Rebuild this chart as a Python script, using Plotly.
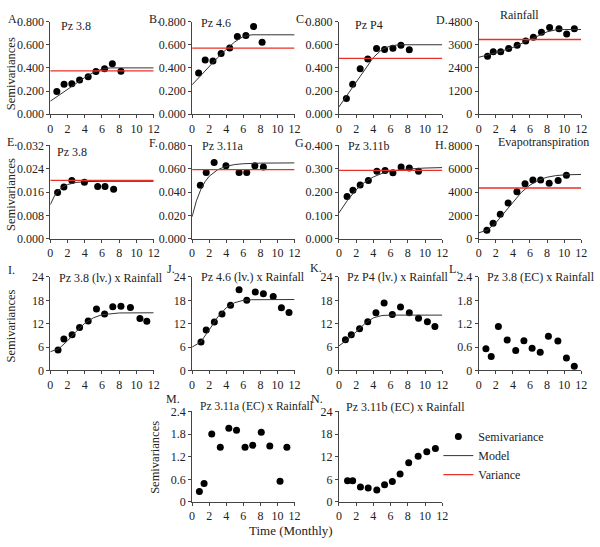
import plotly.graph_objects as go

FONT = "Liberation Serif"
W, H = 600, 547

# ---------------- data ----------------
A_lag = [0.76, 1.6, 2.5, 3.4, 4.4, 5.3, 6.3, 7.2, 8.2]
A_gamma = [0.197, 0.258, 0.264, 0.295, 0.323, 0.368, 0.393, 0.435, 0.371]
A_model_lag = [0, 1, 2, 3, 4, 5, 6, 7, 12]
A_model = [0.112, 0.165, 0.217, 0.268, 0.317, 0.36, 0.39, 0.40, 0.40]
A_var = 0.374

B_lag = [0.76, 1.53, 2.44, 3.4, 4.4, 5.3, 6.3, 7.2, 8.2]
B_gamma = [0.356, 0.469, 0.460, 0.525, 0.573, 0.672, 0.681, 0.757, 0.621]
B_model_lag = [0, 1, 2, 3, 4, 5, 6, 7, 12]
B_model = [0.254, 0.335, 0.415, 0.49, 0.56, 0.625, 0.672, 0.686, 0.686]
B_var = 0.571

C_lag = [0.87, 1.6, 2.47, 3.35, 4.37, 5.3, 6.27, 7.2, 8.17]
C_gamma = [0.135, 0.258, 0.393, 0.478, 0.567, 0.559, 0.570, 0.596, 0.556]
C_model_lag = [0, 1, 2, 3, 4, 5, 6, 7, 12]
C_model = [0.062, 0.17, 0.28, 0.39, 0.49, 0.56, 0.59, 0.60, 0.60]
C_var = 0.483

D_lag = [1.03, 1.7, 2.57, 3.5, 4.5, 5.5, 6.4, 7.35, 8.3, 9.4, 10.3, 11.2]
D_gamma = [2998, 3234, 3234, 3402, 3570, 3789, 3991, 4244, 4497, 4429, 4160, 4429]
D_model_lag = [0, 2, 4, 6, 8, 9, 10, 12]
D_model = [2950, 3180, 3460, 3870, 4270, 4370, 4390, 4390]
D_var = 3874

E_lag = [0.85, 1.58, 2.5, 3.96, 5.5, 6.35, 7.35]
E_gamma = [0.0159, 0.0178, 0.0200, 0.0194, 0.0179, 0.0179, 0.0170]
E_model_lag = [0, 0.25, 0.5, 1, 1.5, 2, 3, 4, 6, 12]
E_model = [0.0117, 0.0135, 0.0148, 0.0167, 0.0179, 0.0186, 0.0193, 0.0196, 0.0197, 0.0197]
E_var = 0.0200

F_lag = [0.96, 1.65, 2.58, 3.96, 5.5, 6.4, 7.35, 8.35]
F_gamma = [0.0458, 0.0569, 0.0653, 0.0625, 0.0569, 0.0569, 0.0625, 0.0614]
F_model_lag = [0, 0.25, 0.5, 1, 1.5, 2, 3, 4, 5, 6, 8, 12]
F_model = [0.019, 0.0263, 0.0325, 0.042, 0.0488, 0.0536, 0.0592, 0.0621, 0.0636, 0.0643, 0.0648, 0.065]
F_var = 0.0592

G_lag = [0.95, 1.63, 2.47, 3.42, 4.41, 5.36, 6.27, 7.22, 8.17, 9.24]
G_gamma = [0.181, 0.208, 0.231, 0.25, 0.289, 0.293, 0.283, 0.308, 0.303, 0.289]
G_model_lag = [0, 1, 2, 3, 4, 5, 6, 8, 10, 12]
G_model = [0.111, 0.165, 0.21, 0.243, 0.265, 0.28, 0.29, 0.299, 0.303, 0.305]
G_var = 0.293

H_lag = [0.95, 1.68, 2.52, 3.44, 4.47, 5.42, 6.34, 7.25, 8.25, 9.3, 10.27]
H_gamma = [740, 1342, 2110, 3068, 4027, 4712, 5041, 5041, 4767, 4986, 5452]
H_model_lag = [0, 1, 2, 3, 4, 5, 6, 7, 8, 9, 10, 12]
H_model = [520, 750, 1380, 2250, 3170, 3985, 4605, 5025, 5275, 5410, 5475, 5515]
H_var = 4356

I_lag = [0.9, 1.58, 2.53, 3.4, 4.4, 5.36, 6.3, 7.25, 8.2, 9.3, 10.4, 11.2]
I_gamma = [5.25, 8.08, 9.17, 11.0, 12.67, 15.75, 14.5, 16.33, 16.5, 16.17, 13.33, 12.6]
I_model_lag = [0, 1, 2, 3, 4, 5, 6, 7, 8, 12]
I_model = [4.8, 5.6, 7.6, 10.0, 12.1, 13.5, 14.3, 14.6, 14.75, 14.8]

J_lag = [1.04, 1.65, 2.6, 3.5, 4.5, 5.5, 6.4, 7.4, 8.35, 9.5, 10.46, 11.35]
J_gamma = [7.28, 10.35, 12.4, 14.5, 16.7, 20.7, 18.0, 20.1, 19.7, 19.0, 16.1, 14.9]
J_model_lag = [0, 1, 2, 3, 4, 5, 6, 7, 12]
J_model = [6.0, 7.3, 10.4, 13.7, 16.1, 17.4, 18.0, 18.15, 18.2]

K_lag = [0.76, 1.44, 2.4, 3.35, 4.3, 5.25, 6.2, 7.15, 8.17, 9.24, 10.27, 11.14]
K_gamma = [7.9, 9.17, 10.67, 12.5, 14.83, 17.33, 14.33, 16.25, 14.83, 13.42, 12.5, 11.25]
K_model_lag = [0, 1, 2, 3, 4, 5, 6, 12]
K_model = [6.3, 7.9, 9.9, 12.0, 13.5, 14.1, 14.2, 14.2]

L_lag = [0.84, 1.46, 2.3, 3.33, 4.33, 5.29, 6.25, 7.2, 8.16, 9.27, 10.27, 11.19]
L_gamma = [0.554, 0.36, 1.13, 0.78, 0.51, 0.76, 0.57, 0.47, 0.88, 0.755, 0.32, 0.11]

M_lag = [0.85, 1.4, 2.3, 3.3, 4.3, 5.2, 6.2, 7.1, 8.1, 9.1, 10.3, 11.1]
M_gamma = [0.28, 0.49, 1.8, 1.45, 1.95, 1.9, 1.45, 1.5, 1.85, 1.48, 0.55, 1.45]

N_lag = [1.0, 1.6, 2.5, 3.4, 4.4, 5.3, 6.2, 7.1, 8.1, 9.2, 10.2, 11.2]
N_gamma = [5.6, 5.6, 4.0, 3.7, 3.2, 4.6, 5.4, 7.4, 10.4, 12.1, 13.3, 14.2]

x_ticks = [0, 2, 4, 6, 8, 10, 12]
x_ticktext = ["0", "2", "4", "6", "8", "10", "12"]

yt_08 = [0, 0.2, 0.4, 0.6, 0.8]
yt_08_text = ["0.000", "0.200", "0.400", "0.600", "0.800"]
yt_rain = [0, 1200, 2400, 3600, 4800]
yt_rain_text = ["0", "1200", "2400", "3600", "4800"]
yt_032 = [0, 0.008, 0.016, 0.024, 0.032]
yt_032_text = ["0.000", "0.008", "0.016", "0.024", "0.032"]
yt_080 = [0, 0.02, 0.04, 0.06, 0.08]
yt_080_text = ["0.000", "0.020", "0.040", "0.060", "0.080"]
yt_04 = [0, 0.1, 0.2, 0.3, 0.4]
yt_04_text = ["0.000", "0.100", "0.200", "0.300", "0.400"]
yt_evap = [0, 2000, 4000, 6000, 8000]
yt_evap_text = ["0", "2000", "4000", "6000", "8000"]
yt_24 = [0, 6, 12, 18, 24]
yt_24_text = ["0", "6", "12", "18", "24"]
yt_24b = [0, 0.6, 1.2, 1.8, 2.4]
yt_24b_text = ["0", "0.6", "1.2", "1.8", "2.4"]

titles = ["Pz 3.8", "Pz 4.6", "Pz P4", "Rainfall", "Pz 3.8", "Pz 3.11a", "Pz 3.11b",
          "Evapotranspiration", "Pz 3.8 (lv.) x Rainfall", "Pz 4.6 (lv.) x Rainfall",
          "Pz P4 (lv.) x Rainfall", "Pz 3.8 (EC) x Rainfall", "Pz 3.11a (EC) x Rainfall",
          "Pz 3.11b (EC) x Rainfall"]
letters = ["A.", "B.", "C.", "D.", "E.", "F.", "G.", "H.", "I.", "J.", "K.", "L.", "M.", "N."]
legend_names = ["Semivariance", "Model", "Variance"]
y_title = "Semivariances"
x_title = "Time (Monthly)"

# ---------------- layout geometry (pixels) ----------------
COLS = [(48, 153), (192, 296), (341, 446), (483, 587)]
ROWS = [(15, 110), (142, 238), (277, 373), (415, 508)]

panels = [
    dict(c=0, r=0, x=A_lag, y=A_gamma, mx=A_model_lag, my=A_model, var=A_var, yt=yt_08, ytt=yt_08_text, tpos=(57, 19), tsize=12, lpos=(3, 12)),
    dict(c=1, r=0, x=B_lag, y=B_gamma, mx=B_model_lag, my=B_model, var=B_var, yt=yt_08, ytt=yt_08_text, tpos=(199, 16), tsize=12, lpos=(146, 12)),
    dict(c=2, r=0, x=C_lag, y=C_gamma, mx=C_model_lag, my=C_model, var=C_var, yt=yt_08, ytt=yt_08_text, tpos=(355, 18), tsize=12, lpos=(295, 12)),
    dict(c=3, r=0, x=D_lag, y=D_gamma, mx=D_model_lag, my=D_model, var=D_var, yt=yt_rain, ytt=yt_rain_text, tpos=(503, 8), tsize=12, lpos=(438, 13)),
    dict(c=0, r=1, x=E_lag, y=E_gamma, mx=E_model_lag, my=E_model, var=E_var, yt=yt_032, ytt=yt_032_text, tpos=(53, 149), tsize=12, lpos=(2, 139)),
    dict(c=1, r=1, x=F_lag, y=F_gamma, mx=F_model_lag, my=F_model, var=F_var, yt=yt_080, ytt=yt_080_text, tpos=(200, 143), tsize=12, lpos=(146, 140)),
    dict(c=2, r=1, x=G_lag, y=G_gamma, mx=G_model_lag, my=G_model, var=G_var, yt=yt_04, ytt=yt_04_text, tpos=(348, 143), tsize=12, lpos=(294, 140)),
    dict(c=3, r=1, x=H_lag, y=H_gamma, mx=H_model_lag, my=H_model, var=H_var, yt=yt_evap, ytt=yt_evap_text, tpos=(500, 139), tsize=12, lpos=(437, 142)),
    dict(c=0, r=2, x=I_lag, y=I_gamma, mx=I_model_lag, my=I_model, var=None, yt=yt_24, ytt=yt_24_text, tpos=(55, 278), tsize=12, lpos=(3, 270)),
    dict(c=1, r=2, x=J_lag, y=J_gamma, mx=J_model_lag, my=J_model, var=None, yt=yt_24, ytt=yt_24_text, tpos=(199, 277), tsize=12, lpos=(164, 269)),
    dict(c=2, r=2, x=K_lag, y=K_gamma, mx=K_model_lag, my=K_model, var=None, yt=yt_24, ytt=yt_24_text, tpos=(347, 277), tsize=12, lpos=(310, 268)),
    dict(c=3, r=2, x=L_lag, y=L_gamma, mx=None, my=None, var=None, yt=yt_24b, ytt=yt_24b_text, tpos=(489, 277), tsize=12, lpos=(451, 269)),
    dict(c=1, r=3, x=M_lag, y=M_gamma, mx=None, my=None, var=None, yt=yt_24b, ytt=yt_24b_text, tpos=(198, 410), tsize=11.5, lpos=(163, 402)),
    dict(c=2, r=3, x=N_lag, y=N_gamma, mx=None, my=None, var=None, yt=yt_24, ytt=yt_24_text, tpos=(346, 410), tsize=12, lpos=(311, 402)),
]

fig = go.Figure()
annotations = []
layout_axes = {}

for i, p in enumerate(panels):
    k = i + 1
    xa = "x" if k == 1 else f"x{k}"
    ya = "y" if k == 1 else f"y{k}"
    c0, c1 = COLS[p["c"]]
    r0, r1 = ROWS[p["r"]]
    first = (i == 0)
    fig.add_trace(go.Scatter(x=p["x"], y=p["y"], mode="markers", xaxis=xa, yaxis=ya,
                             marker=dict(color="black", size=7),
                             name=legend_names[0], showlegend=first, legendrank=1))
    if p["mx"] is not None:
        fig.add_trace(go.Scatter(x=p["mx"], y=p["my"], mode="lines", xaxis=xa, yaxis=ya,
                                 line=dict(color="#333333", width=1),
                                 name=legend_names[1], showlegend=first, legendrank=2))
    if p["var"] is not None:
        fig.add_trace(go.Scatter(x=[0, 12], y=[p["var"], p["var"]], mode="lines", xaxis=xa, yaxis=ya,
                                 line=dict(color="#e8302a", width=1.3),
                                 name=legend_names[2], showlegend=first, legendrank=3))
    common = dict(showline=True, linecolor="#444444", linewidth=1, ticks="outside", ticklen=3,
                  tickcolor="#444444", showgrid=False, zeroline=False, tickmode="array",
                  tickfont=dict(family=FONT, size=12, color="#222222"), fixedrange=True)
    layout_axes["xaxis" if k == 1 else f"xaxis{k}"] = dict(
        common, domain=[c0 / W, c1 / W], range=[0, 12], tickvals=x_ticks, ticktext=x_ticktext,
        anchor=ya)
    layout_axes["yaxis" if k == 1 else f"yaxis{k}"] = dict(
        common, domain=[1 - r1 / H, 1 - r0 / H], range=[0, p["yt"][-1]], tickvals=p["yt"],
        ticktext=p["ytt"], anchor=xa)
    tx, ty = p["tpos"]
    annotations.append(dict(x=tx / W, y=1 - ty / H, xref="paper", yref="paper", text=titles[i],
                            showarrow=False, xanchor="left", yanchor="middle",
                            font=dict(family=FONT, size=p["tsize"], color="#222222")))
    lx, ly = p["lpos"]
    annotations.append(dict(x=lx / W, y=1 - ly / H, xref="paper", yref="paper", text=letters[i],
                            showarrow=False, xanchor="left", yanchor="middle",
                            font=dict(family=FONT, size=12, color="#222222")))

for (px, py) in [(8, 68), (8, 192), (8, 327), (155, 462)]:
    annotations.append(dict(x=px / W, y=1 - py / H, xref="paper", yref="paper", text=y_title,
                            showarrow=False, textangle=-90, xanchor="center", yanchor="middle",
                            font=dict(family=FONT, size=12.5, color="#222222")))

annotations.append(dict(x=292 / W, y=1 - 537 / H, xref="paper", yref="paper", text=x_title,
                        showarrow=False, xanchor="center", yanchor="middle",
                        font=dict(family=FONT, size=13, color="#222222")))

fig.update_layout(
    width=W, height=H, margin=dict(l=0, r=0, t=0, b=0),
    paper_bgcolor="white", plot_bgcolor="white",
    font=dict(family=FONT, size=12, color="#222222"),
    annotations=annotations,
    legend=dict(x=442 / W, y=1 - 426 / H, xanchor="left", yanchor="top",
                bgcolor="rgba(0,0,0,0)", itemwidth=30, tracegroupgap=0,
                font=dict(family=FONT, size=12, color="#222222")),
    **layout_axes,
)

fig.write_html("out.html")
